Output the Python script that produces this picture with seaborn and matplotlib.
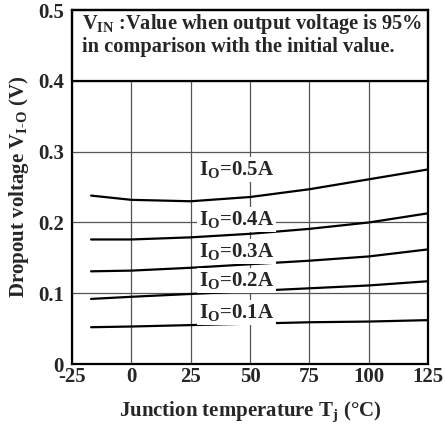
import numpy as np
import pandas as pd
import seaborn as sns
import matplotlib.pyplot as plt
from matplotlib.patches import Rectangle

# junction temperature (deg C) and dropout voltage
temps = [-17, 0, 25, 50, 75, 100, 125]
v_05 = [0.238, 0.232, 0.230, 0.236, 0.247, 0.261, 0.275]
v_04 = [0.176, 0.176, 0.179, 0.184, 0.191, 0.200, 0.213]
v_03 = [0.131, 0.132, 0.136, 0.141, 0.146, 0.152, 0.162]
v_02 = [0.092, 0.095, 0.099, 0.103, 0.107, 0.111, 0.117]
v_01 = [0.052, 0.053, 0.055, 0.057, 0.059, 0.060, 0.062]
currents = ['0.5A', '0.4A', '0.3A', '0.2A', '0.1A']
label_y = [0.275, 0.204, 0.159, 0.118, 0.073]

xticks = [-25, 0, 25, 50, 75, 100, 125]
yticks = [0, 0.1, 0.2, 0.3, 0.4, 0.5]

rows = []
for cur, vals in zip(currents, [v_05, v_04, v_03, v_02, v_01]):
    for t, v in zip(temps, vals):
        rows.append({'Tj': t, 'V': v, 'Io': cur})
df = pd.DataFrame(rows)

sns.set_style('white')
plt.rcParams['font.family'] = ['Liberation Serif', 'DejaVu Serif']
plt.rcParams['font.weight'] = 'bold'
plt.rcParams['mathtext.fontset'] = 'custom'
plt.rcParams['mathtext.rm'] = 'Liberation Serif:bold'
plt.rcParams['mathtext.it'] = 'Liberation Serif:bold'
plt.rcParams['mathtext.bf'] = 'Liberation Serif:bold'

fs = 15

fig = plt.figure(figsize=(4.45, 4.25), dpi=100)
ax = fig.add_axes([0.162, 0.1435, 0.8, 0.8325])

sns.lineplot(data=df, x='Tj', y='V', hue='Io', palette=['black'] * 5,
             legend=False, linewidth=1.6, ax=ax, zorder=3)

ax.set_xlim(-25, 125)
ax.set_ylim(0, 0.5)
ax.set_xticks(xticks)
ax.set_yticks(yticks)
ax.set_xticklabels([str(x) for x in xticks])
ax.set_yticklabels(['0', '0.1', '0.2', '0.3', '0.4', '0.5'])
ax.tick_params(axis='x', length=0, pad=2, labelsize=fs)
ax.tick_params(axis='y', length=0, pad=6, labelsize=fs)

ax.grid(True, color='#555555', linewidth=0.9)
ax.set_axisbelow(True)
for s in ax.spines.values():
    s.set_linewidth(1.6)
    s.set_color('black')

# note box on top band
ax.add_patch(Rectangle((0, 0.8), 1, 0.2, transform=ax.transAxes,
                       facecolor='white', edgecolor='black', linewidth=1.6,
                       zorder=2.5, clip_on=False))
ax.text(-20.8, 0.481, r'V$_\mathrm{IN}$ :Value when output voltage is 95%',
        fontsize=14.7, fontweight='bold', va='center', ha='left', zorder=4)
ax.text(-20.8, 0.448, 'in comparison with the initial value.',
        fontsize=14.7, fontweight='bold', va='center', ha='left', zorder=4)

for cur, y in zip(currents, label_y):
    ax.text(28.5, y, r'I$_\mathrm{O}$=' + cur, fontsize=fs, fontweight='bold',
            va='center', ha='left', zorder=4,
            bbox=dict(facecolor='white', edgecolor='none', pad=1.5))

ax.set_xlabel(r'Junction temperature T$_\mathrm{j}$ (°C)', fontsize=fs,
              fontweight='bold', labelpad=9)
ax.set_ylabel(r'Dropout voltage V$_\mathrm{I\text{-}O}$ (V)', fontsize=fs,
              fontweight='bold', labelpad=5)

fig.savefig('out.png', dpi=100)
